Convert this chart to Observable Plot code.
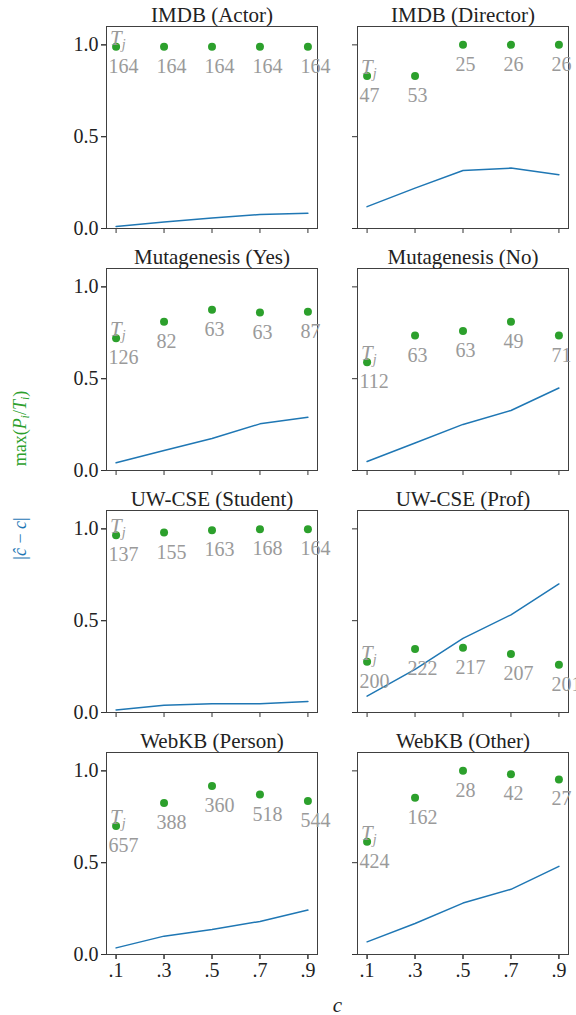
<!DOCTYPE html>
<html>
<head>
<meta charset="utf-8">
<script src="https://cdn.jsdelivr.net/npm/d3@7"></script>
<script src="https://cdn.jsdelivr.net/npm/@observablehq/plot@0.6"></script>
<style>
  html, body { margin: 0; padding: 0; background: #fff; overflow: hidden; }
  #chart svg { display: block; }
</style>
</head>
<body>
<div id="chart"></div>
<script>
// Sampling rates c shared by every panel
const cValues = [0.1, 0.3, 0.5, 0.7, 0.9];
const panelTitles = [
  "IMDB (Actor)", "IMDB (Director)",
  "Mutagenesis (Yes)", "Mutagenesis (No)",
  "UW-CSE (Student)", "UW-CSE (Prof)",
  "WebKB (Person)", "WebKB (Other)"
];
// max(P_i / T_i) for each panel, one value per c
const maxRatio = [
  [0.99, 0.99, 0.99, 0.99, 0.99],
  [0.83, 0.83, 1.0, 1.0, 1.0],
  [0.72, 0.81, 0.875, 0.86, 0.865],
  [0.59, 0.735, 0.76, 0.81, 0.735],
  [0.965, 0.98, 0.993, 0.998, 0.998],
  [0.277, 0.346, 0.353, 0.319, 0.26],
  [0.70, 0.825, 0.918, 0.871, 0.836],
  [0.614, 0.853, 1.0, 0.982, 0.953]
];
// |c_hat - c| for each panel, one value per c
const absError = [
  [0.011, 0.035, 0.057, 0.076, 0.083],
  [0.119, 0.22, 0.316, 0.329, 0.293],
  [0.042, 0.109, 0.174, 0.254, 0.29],
  [0.049, 0.15, 0.251, 0.327, 0.449],
  [0.014, 0.04, 0.047, 0.047, 0.06],
  [0.089, 0.235, 0.404, 0.532, 0.70],
  [0.036, 0.10, 0.136, 0.18, 0.242],
  [0.069, 0.169, 0.28, 0.355, 0.48]
];
// T_j counts printed under each dot
const tCounts = [
  [164, 164, 164, 164, 164],
  [47, 53, 25, 26, 26],
  [126, 82, 63, 63, 87],
  [112, 63, 63, 49, 71],
  [137, 155, 163, 168, 164],
  [200, 222, 217, 207, 201],
  [657, 388, 360, 518, 544],
  [424, 162, 28, 42, 27]
];
const xTicks = [0.1, 0.3, 0.5, 0.7, 0.9];
const yTicks = [0, 0.5, 1.0];

const blue = "#1f77b4";
const green = "#2ca02c";
const grey = "#9a9a9a";
const ink = "#222";
const serif = "'Liberation Serif', 'Times New Roman', serif";

const rows = panelTitles.flatMap((title, p) =>
  cValues.map((c, i) => ({
    panel: p, col: p % 2, row: Math.floor(p / 2), c,
    ratio: maxRatio[p][i], err: absError[p][i], t: tCounts[p][i]
  }))
);
const firstRows = rows.filter(d => d.c === cValues[0]);
const titleRows = panelTitles.map((title, p) => ({title, col: p % 2, row: Math.floor(p / 2)}));

const chart = Plot.plot({
  width: 576,
  height: 1015,
  marginLeft: 105,
  marginRight: 7,
  marginTop: 25,
  marginBottom: 61,
  style: {fontFamily: serif, fontSize: "20px", color: ink, background: "#fff"},
  fx: {domain: [0, 1], paddingInner: 0.1587, paddingOuter: 0, axis: null},
  fy: {domain: [0, 1, 2, 3], paddingInner: 0.167, paddingOuter: 0, axis: null},
  x: {domain: [0.06, 0.94], axis: null},
  y: {domain: [0, 1.1], axis: null},
  marks: [
    // tick marks on every panel, labels only on the outer panels
    Plot.axisX(xTicks, {facetAnchor: null, tickSize: 5, tickFormat: () => "", label: null, stroke: "#333"}),
    Plot.axisY(yTicks, {facetAnchor: null, tickSize: 5, tickFormat: () => "", label: null, stroke: "#333"}),
    Plot.axisX(xTicks, {facetAnchor: "bottom", tickSize: 5, tickPadding: 3, tickFormat: d => String(d).replace(/^0/, ""), label: null, stroke: "#333", fontSize: 20}),
    Plot.axisY(yTicks, {facetAnchor: "left", tickSize: 5, tickPadding: 3, tickFormat: d3.format(".1f"), label: null, stroke: "#333", fontSize: 20}),
    Plot.frame({stroke: "#404040", strokeWidth: 1}),
    Plot.line(rows, {x: "c", y: "err", fx: "col", fy: "row", z: "panel", stroke: blue, strokeWidth: 1.5}),
    Plot.dot(rows, {x: "c", y: "ratio", fx: "col", fy: "row", r: 4, fill: green, stroke: null}),
    Plot.text(rows, {
      x: "c", y: "ratio", fx: "col", fy: "row", text: "t",
      textAnchor: "start", lineAnchor: "bottom", dx: -7.5, dy: 26,
      fill: grey, fontSize: 20
    }),
    Plot.text(firstRows, {
      x: "c", y: "ratio", fx: "col", fy: "row", text: () => "Tj",
      textAnchor: "start", lineAnchor: "bottom", dx: -6, dy: -2,
      fill: grey, fontSize: 21
    }),
    Plot.text(titleRows, {
      fx: "col", fy: "row", text: "title", frameAnchor: "top",
      lineAnchor: "bottom", dy: -5, fill: ink, fontSize: 21
    }),
    // shared axis titles
    Plot.text(["max(Pi/Ti)"], {
      facet: "super", text: d => d, frameAnchor: "left", textAnchor: "middle", rotate: -90,
      dx: -86, dy: -62, fill: green, fontSize: 18
    }),
    Plot.text(["|ĉ − c|"], {
      facet: "super", text: d => d, frameAnchor: "left", textAnchor: "middle", rotate: -90,
      dx: -86, dy: 48, fill: blue, fontSize: 18
    }),
    Plot.text(["c"], {
      facet: "super", text: d => d, frameAnchor: "bottom", textAnchor: "middle",
      lineAnchor: "bottom", dy: 57, fill: ink, fontSize: 21, fontStyle: "italic"
    })
  ]
});

document.getElementById("chart").append(chart);

// Math-style runs (italic symbols, subscripts) inside the label texts
const svg = d3.select(chart.tagName.toLowerCase() === "svg" ? chart : chart.querySelector("svg"));
function richText(content, parts) {
  svg.selectAll("text").filter(function () { return this.textContent === content; }).each(function () {
    const t = d3.select(this);
    t.selectAll("*").remove();
    t.text(null);
    let shift = 0;
    for (const p of parts) {
      const ts = t.append("tspan").text(p.s);
      if (p.italic) ts.attr("font-style", "italic");
      const target = p.sub ? p.sub : 0;
      if (target !== shift) { ts.attr("dy", target - shift); shift = target; }
      if (p.size) ts.attr("font-size", p.size);
    }
  });
}
richText("Tj", [
  {s: "T", italic: true},
  {s: "j", italic: true, sub: 4, size: 14}
]);
richText("max(Pi/Ti)", [
  {s: "max("},
  {s: "P", italic: true},
  {s: "i", italic: true, sub: 3, size: 12},
  {s: "/"},
  {s: "T", italic: true},
  {s: "i", italic: true, sub: 3, size: 12},
  {s: ")"}
]);
richText("|ĉ − c|", [
  {s: "|"},
  {s: "ĉ", italic: true},
  {s: " − "},
  {s: "c", italic: true},
  {s: "|"}
]);
</script>
</body>
</html>
